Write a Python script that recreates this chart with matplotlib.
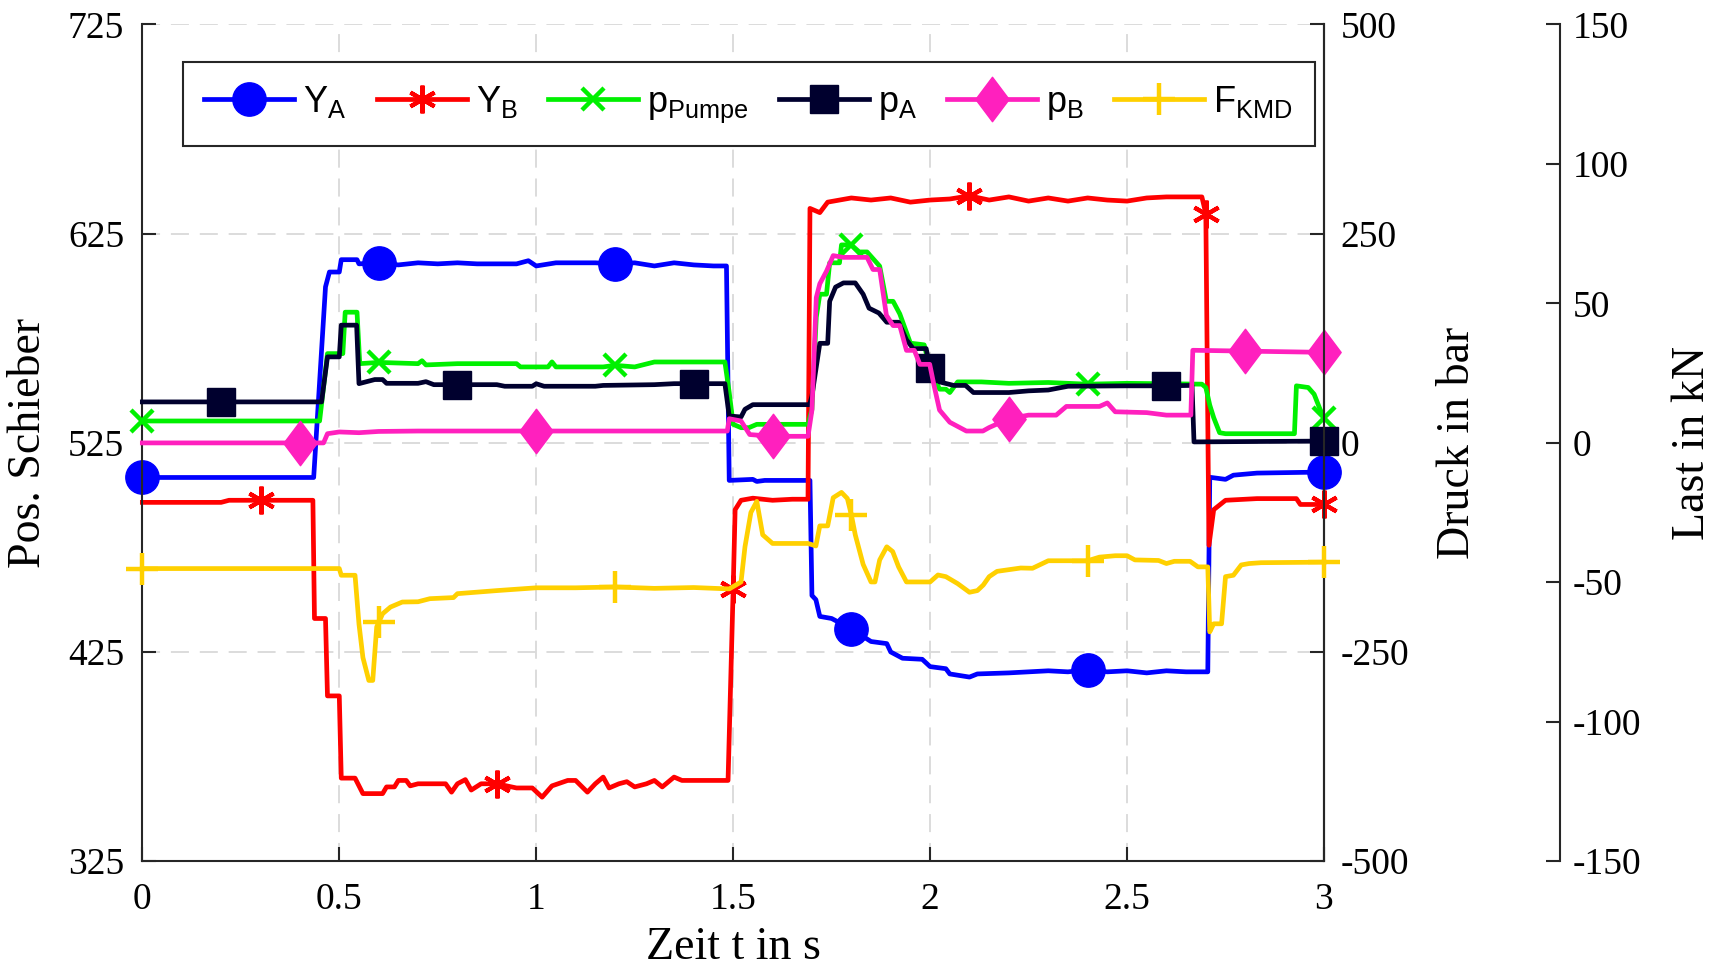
import numpy as np
import matplotlib.pyplot as plt
from matplotlib.path import Path

plt.rcParams['font.family'] = 'Liberation Serif'
plt.rcParams['mathtext.default'] = 'regular'
plt.rcParams['axes.unicode_minus'] = False
plt.rcParams['xtick.direction'] = 'in'
plt.rcParams['ytick.direction'] = 'in'

# --- Daten (t in s, Wert) ---
y_a = [(0, 508.4), (0.435, 508.4), (0.465, 599.5), (0.475, 606.6), (0.50, 606.6), (0.505, 612.5),
       (0.545, 612.5), (0.55, 610.5), (0.6, 611), (0.65, 610), (0.7, 611), (0.75, 610.5), (0.8, 611),
       (0.85, 610.5), (0.9, 610.5), (0.95, 610.5), (0.98, 612), (1.0, 609.5), (1.05, 611), (1.1, 611),
       (1.15, 611), (1.2, 610.5), (1.25, 611), (1.3, 609.5), (1.35, 611), (1.4, 610), (1.45, 609.5),
       (1.483, 609.5), (1.49, 507), (1.55, 507.5), (1.56, 506.5), (1.58, 507), (1.695, 507), (1.70, 452),
       (1.71, 450), (1.72, 442), (1.75, 441), (1.8, 436), (1.85, 430), (1.89, 429), (1.90, 425),
       (1.93, 422), (1.98, 421.5), (2.0, 418), (2.04, 417), (2.05, 414.5), (2.1, 413), (2.12, 414.5),
       (2.2, 415), (2.25, 415.5), (2.3, 416), (2.35, 415.5), (2.4, 416.5), (2.45, 415.5), (2.5, 416),
       (2.55, 415), (2.6, 416), (2.65, 415.5), (2.705, 415.5), (2.71, 508.5), (2.75, 507.5),
       (2.77, 509.5), (2.83, 510.5), (3.0, 511)]
y_b = [(0, 496.5), (0.2, 496.5), (0.22, 497.5), (0.433, 497.5), (0.437, 441), (0.465, 441), (0.47, 404),
       (0.5, 404), (0.505, 364.7), (0.54, 364.7), (0.56, 357.3), (0.61, 357.3), (0.62, 360.5),
       (0.64, 360.5), (0.65, 363.6), (0.67, 363.6), (0.68, 361), (0.7, 362), (0.77, 362), (0.785, 358),
       (0.8, 362), (0.82, 364), (0.835, 359), (0.86, 362), (0.9, 362), (0.95, 360), (0.99, 360),
       (1.015, 355.6), (1.04, 361), (1.08, 363.6), (1.1, 363.6), (1.13, 358), (1.15, 362), (1.17, 365.2),
       (1.185, 360), (1.21, 362), (1.23, 363), (1.25, 360.5), (1.28, 362), (1.3, 363.6), (1.32, 360.5),
       (1.35, 365.2), (1.37, 363.6), (1.487, 363.6), (1.50, 455), (1.505, 493), (1.52, 497.5),
       (1.55, 498.5), (1.6, 497.5), (1.65, 498), (1.69, 498), (1.695, 637), (1.72, 635), (1.74, 640),
       (1.8, 642), (1.85, 641), (1.9, 642), (1.95, 640), (2.0, 641), (2.05, 641.5), (2.1, 643),
       (2.15, 641), (2.2, 642.5), (2.25, 640.5), (2.3, 642), (2.35, 640.5), (2.4, 642), (2.45, 641),
       (2.5, 640.5), (2.55, 642), (2.6, 642.5), (2.69, 642.5), (2.70, 634.5), (2.708, 476), (2.72, 493),
       (2.75, 497.5), (2.83, 498.3), (2.93, 498.3), (2.94, 495.5), (3.0, 495.5)]
p_pumpe = [(0, 26), (0.45, 26), (0.47, 106.5), (0.509, 106.5), (0.515, 156), (0.545, 156), (0.552, 94.5),
           (0.6, 96), (0.7, 94.5), (0.71, 98), (0.72, 93), (0.8, 94.5), (0.95, 94.5), (0.96, 90.6),
           (1.03, 90.6), (1.04, 96.6), (1.05, 90.6), (1.17, 90.6), (1.2, 92.5), (1.25, 90.6), (1.3, 96.5),
           (1.479, 96.5), (1.49, 60), (1.5, 22), (1.52, 18), (1.54, 18), (1.56, 22), (1.69, 22), (1.70, 40),
           (1.711, 150), (1.72, 177.5), (1.737, 177.5), (1.745, 215), (1.77, 215), (1.775, 236.4),
           (1.8, 236.4), (1.82, 228), (1.84, 228), (1.872, 211), (1.889, 169), (1.906, 169), (1.923, 154),
           (1.95, 119), (1.985, 117), (1.999, 89.5), (2.024, 64), (2.04, 64), (2.05, 60), (2.07, 72.7),
           (2.13, 72.7), (2.2, 71), (2.3, 72), (2.4, 70), (2.5, 71), (2.6, 70.5), (2.69, 70), (2.70, 66),
           (2.71, 45), (2.72, 30), (2.735, 12), (2.75, 10.8), (2.925, 10.8), (2.93, 68), (2.96, 66),
           (2.975, 58), (2.99, 40), (3.0, 30)]
p_a = [(0, 48.8), (0.455, 48.8), (0.47, 102.6), (0.5, 102.6), (0.505, 140.5), (0.544, 140.5), (0.55, 70.6),
       (0.59, 75.5), (0.61, 75.5), (0.62, 71), (0.7, 71), (0.72, 73), (0.74, 69.4), (0.9, 69.4),
       (0.92, 67.5), (0.99, 67.5), (1.0, 70.5), (1.02, 67.5), (1.15, 67.5), (1.17, 68.5), (1.3, 69.4),
       (1.35, 70.6), (1.479, 70.6), (1.49, 32), (1.52, 30.8), (1.53, 40), (1.55, 45.5), (1.694, 45.5),
       (1.70, 55.9), (1.72, 118.8), (1.74, 118.8), (1.745, 169), (1.76, 186), (1.78, 191), (1.81, 191),
       (1.83, 177.5), (1.845, 160.8), (1.87, 155), (1.89, 144), (1.92, 144), (1.94, 123), (1.957, 112.5),
       (1.99, 112.5), (2.0, 89.5), (2.024, 72.7), (2.06, 68.5), (2.09, 68.5), (2.11, 60), (2.2, 60),
       (2.25, 62), (2.3, 63), (2.35, 67.5), (2.5, 68), (2.6, 68), (2.665, 68.5), (2.67, 1), (3.0, 2)]
p_b = [(0, -0.2), (0.46, -0.2), (0.47, 10.8), (0.5, 12.9), (0.55, 12), (0.6, 13.5), (0.7, 14), (1.0, 14),
       (1.485, 14), (1.49, 28.7), (1.52, 26), (1.542, 9.8), (1.6, 7.7), (1.69, 7.7), (1.70, 39),
       (1.711, 173.4), (1.72, 190), (1.737, 205), (1.754, 223.6), (1.78, 221.5), (1.84, 221.5),
       (1.855, 207), (1.872, 207), (1.889, 152.4), (1.906, 140), (1.923, 140), (1.94, 110.4),
       (1.96, 110.4), (1.974, 93.7), (1.999, 93.7), (2.01, 68.5), (2.024, 39), (2.05, 24.5), (2.092, 14),
       (2.134, 14), (2.15, 18.2), (2.2, 28.7), (2.25, 33), (2.32, 33), (2.346, 43.4), (2.43, 43.4),
       (2.45, 47.6), (2.47, 37), (2.55, 36), (2.6, 33), (2.662, 33), (2.667, 110.5), (3.0, 108)]
f_kmd = [(0, -45.1), (0.5, -45.1), (0.505, -47.5), (0.54, -47.5), (0.55, -65), (0.56, -77), (0.575, -85.2),
         (0.585, -85.2), (0.595, -66), (0.61, -61.3), (0.63, -58.9), (0.66, -57.1), (0.7, -57),
         (0.73, -55.9), (0.79, -55.5), (0.8, -54.1), (0.9, -53), (1.0, -52), (1.1, -52), (1.2, -51.7),
         (1.3, -52.2), (1.4, -51.9), (1.49, -52.4), (1.52, -49.9), (1.53, -37.3), (1.545, -25), (1.56, -21),
         (1.575, -33), (1.6, -36.1), (1.69, -36.1), (1.71, -37), (1.72, -29.8), (1.74, -29.8),
         (1.754, -19.7), (1.775, -17.8), (1.79, -20), (1.8, -25.8), (1.81, -33), (1.83, -43.6),
         (1.85, -49.9), (1.86, -49.9), (1.872, -42), (1.89, -37.3), (1.905, -39), (1.92, -44.5),
         (1.94, -49.9), (2.0, -49.9), (2.02, -47.4), (2.04, -48), (2.07, -50.5), (2.1, -53.6), (2.12, -53),
         (2.135, -51), (2.15, -48), (2.17, -46.1), (2.23, -44.9), (2.26, -45), (2.3, -42.3), (2.4, -42.3),
         (2.43, -41), (2.47, -40.5), (2.5, -40.5), (2.52, -42), (2.58, -42.2), (2.6, -43.3), (2.62, -42.5),
         (2.66, -42.5), (2.68, -44.5), (2.705, -44.5), (2.71, -67.8), (2.72, -64.9), (2.74, -64.9),
         (2.75, -48), (2.77, -47.5), (2.79, -43.8), (2.81, -43.3), (2.84, -43), (3.0, -42.8)]

# Marker-Zeitpunkte
marks_ya = [0, 0.6, 1.2, 1.8, 2.4, 3.0]
marks_yb = [0.3, 0.9, 1.5, 2.1, 2.7, 3.0]
marks_pp = [0, 0.6, 1.2, 1.8, 2.4, 3.0]
marks_pa = [0.2, 0.8, 1.4, 2.0, 2.6, 3.0]
marks_pb = [0.4, 1.0, 1.6, 2.2, 2.8, 3.0]
marks_f = [0, 0.6, 1.2, 1.8, 2.4, 3.0]

labels = [r'$\mathregular{Y_A}$', r'$\mathregular{Y_B}$', r'$\mathregular{p_{Pumpe}}$',
          r'$\mathregular{p_A}$', r'$\mathregular{p_B}$', r'$\mathregular{F_{KMD}}$']
x_ticks = [0, 0.5, 1, 1.5, 2, 2.5, 3]
x_ticklabels = ['0', '0.5', '1', '1.5', '2', '2.5', '3']

diamond = Path([(0, 1), (0.75, 0), (0, -1), (-0.75, 0), (0, 1)],
               [Path.MOVETO, Path.LINETO, Path.LINETO, Path.LINETO, Path.CLOSEPOLY])


def prep(data, marks):
    t, v = np.array(data, dtype=float).T
    tt = np.union1d(t, marks)
    vv = np.interp(tt, t, v)
    idx = [int(np.argmin(np.abs(tt - m))) for m in marks]
    return tt, vv, idx


fig = plt.figure(figsize=(17.15, 9.72), dpi=100)
ax = fig.add_axes([0.083, 0.114, 0.689, 0.861])
ax2 = ax.twinx()
ax3 = ax.twinx()

lw = 3.4
handles = []
t, v, i = prep(y_a, marks_ya)
handles += ax.plot(t, v, color='#0000FF', lw=lw, marker='o', ms=24, markevery=i, mec='#0000FF', clip_on=False)
t, v, i = prep(y_b, marks_yb)
handles += ax.plot(t, v, color='#FF0000', lw=lw, marker=(6, 2, 0), ms=20, mew=3, markevery=i, clip_on=False)
t, v, i = prep(p_pumpe, marks_pp)
handles += ax2.plot(t, v, color='#00F000', lw=lw, marker='x', ms=16, mew=3.2, markevery=i, clip_on=False)
t, v, i = prep(p_a, marks_pa)
handles += ax2.plot(t, v, color='#00002E', lw=lw, marker='s', ms=20, markevery=i, clip_on=False)
t, v, i = prep(p_b, marks_pb)
handles += ax2.plot(t, v, color='#FF20BE', lw=lw, marker=diamond, ms=32, markevery=i, clip_on=False)
t, v, i = prep(f_kmd, marks_f)
handles += ax3.plot(t, v, color='#FFD000', lw=lw, marker='+', ms=23, mew=3.2, markevery=i, clip_on=False)

spine_c = '#262626'
ax.set_xlim(0, 3)
ax.set_ylim(325, 725)
ax.set_xticks(x_ticks)
ax.set_xticklabels(x_ticklabels)
ax.set_yticks([325, 425, 525, 625, 725])
ax2.set_ylim(-500, 500)
ax2.set_yticks([-500, -250, 0, 250, 500])
ax3.set_ylim(-150, 150)
ax3.set_yticks([-150, -100, -50, 0, 50, 100, 150])

ax.grid(True, color='#d9d9d9', lw=1.3, linestyle=(0, (10, 6)))
ax.set_axisbelow(True)

for a in (ax, ax2, ax3):
    a.spines['top'].set_visible(False)
    for s in a.spines.values():
        s.set_color(spine_c)
        s.set_linewidth(1.5)
ax2.spines['left'].set_visible(False)
ax2.spines['bottom'].set_visible(False)
ax3.spines['left'].set_visible(False)
ax3.spines['bottom'].set_visible(False)
ax3.spines['right'].set_position(('axes', 1.2))

ax.tick_params(axis='x', labelsize=27, length=10, width=1.5, color=spine_c, pad=15, top=False)
ax.tick_params(axis='y', labelsize=27, length=10, width=1.5, color=spine_c, pad=13, right=False)
ax2.tick_params(axis='y', labelsize=27, length=10, width=1.5, color=spine_c, pad=12)
ax3.tick_params(axis='y', labelsize=27, length=10, width=1.5, color=spine_c, pad=9)

ax.set_xlabel('Zeit t in s', fontsize=33)
ax.set_ylabel('Pos. Schieber', fontsize=33)
ax2.set_ylabel('Druck in bar', fontsize=33)
ax3.set_ylabel('Last in kN', fontsize=33)
ax.xaxis.set_label_coords(0.5, -0.078)
ax.yaxis.set_label_coords(-0.078, 0.5)
ax2.yaxis.set_label_coords(1.095, 0.5)
ax3.yaxis.set_label_coords(1.294, 0.5)

leg = ax3.legend(handles, labels, ncol=6, mode='expand', loc='upper left',
                 bbox_to_anchor=(0.034, 0.955, 0.958, 0.0), prop={'family': 'Liberation Sans', 'size': 26},
                 handlelength=2.5, handletextpad=0.25, columnspacing=0.5, borderaxespad=0,
                 fancybox=False, framealpha=1, edgecolor=spine_c, borderpad=0.6)
leg.get_frame().set_linewidth(1.5)

plt.savefig('out.png', dpi=100)
